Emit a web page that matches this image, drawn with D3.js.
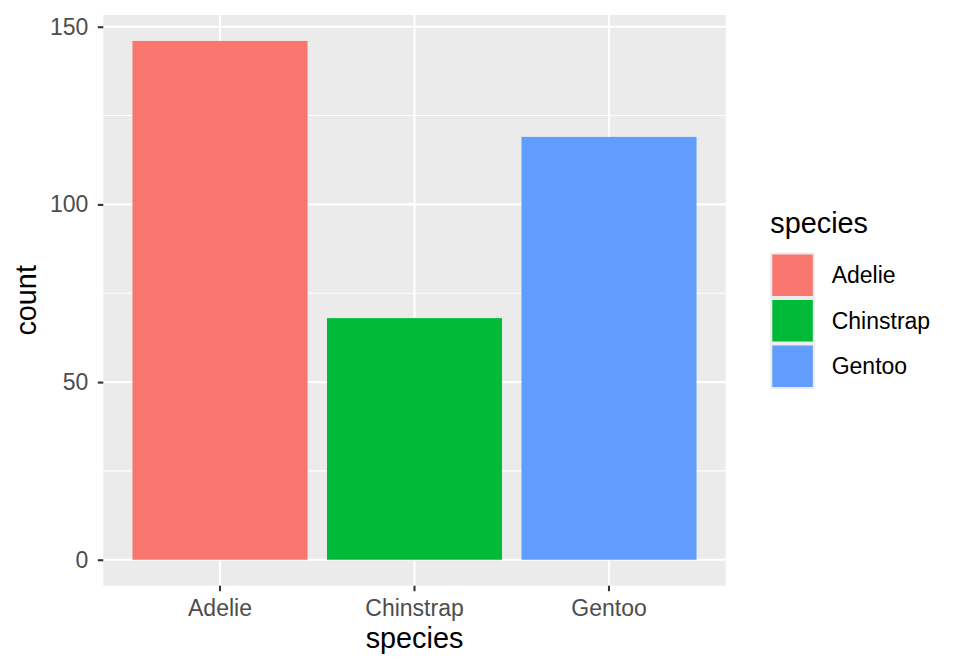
<!doctype html>
<html>
<head>
<style>
  body { margin: 0; background: #fff; }
  text { font-family: "Liberation Sans", Arial, Helvetica, sans-serif; }
</style>
<script src="https://d3js.org/d3.v7.min.js"></script>
</head>
<body>
<svg width="960" height="672"></svg>
<script>
var species = ["Adelie", "Chinstrap", "Gentoo"];
var counts = [146, 68, 119];
var colors = ["#F8766D", "#00BA38", "#619CFF"];
var yTicks = [0, 50, 100, 150];
var yMinor = [25, 75, 125];

var svg = d3.select("svg");
var panel = { left: 103.3, right: 725.7, top: 15, bottom: 585.7 };

// ggplot style expansion: 5% on continuous, 0.6 units on discrete
var yMax = d3.max(counts);
var yScale = d3.scaleLinear()
    .domain([-0.05 * yMax, yMax * 1.05])
    .range([panel.bottom, panel.top]);

var xScale = d3.scaleBand()
    .domain(species)
    .range([panel.left, panel.right])
    .paddingInner(0.1)
    .paddingOuter(0.15);

// panel background
svg.append("rect")
   .attr("x", panel.left)
   .attr("y", panel.top)
   .attr("width", panel.right - panel.left)
   .attr("height", panel.bottom - panel.top)
   .attr("fill", "#EBEBEB");

// minor grid
svg.selectAll(".minor")
   .data(yMinor)
   .enter().append("line")
   .attr("x1", panel.left).attr("x2", panel.right)
   .attr("y1", function(d) { return yScale(d); })
   .attr("y2", function(d) { return yScale(d); })
   .attr("stroke", "#fff").attr("stroke-width", 1.1);

// major grid
svg.selectAll(".majorY")
   .data(yTicks)
   .enter().append("line")
   .attr("x1", panel.left).attr("x2", panel.right)
   .attr("y1", function(d) { return yScale(d); })
   .attr("y2", function(d) { return yScale(d); })
   .attr("stroke", "#fff").attr("stroke-width", 2.1);

svg.selectAll(".majorX")
   .data(species)
   .enter().append("line")
   .attr("x1", function(d) { return xScale(d) + xScale.bandwidth() / 2; })
   .attr("x2", function(d) { return xScale(d) + xScale.bandwidth() / 2; })
   .attr("y1", panel.top).attr("y2", panel.bottom)
   .attr("stroke", "#fff").attr("stroke-width", 2.1);

// bars
svg.selectAll(".bar")
   .data(species)
   .enter().append("rect")
   .attr("x", function(d) { return xScale(d); })
   .attr("width", xScale.bandwidth())
   .attr("y", function(d, i) { return yScale(counts[i]); })
   .attr("height", function(d, i) { return yScale(0) - yScale(counts[i]); })
   .attr("fill", function(d, i) { return colors[i]; });

// axes
var yAxis = svg.append("g")
   .attr("transform", "translate(" + panel.left + ",0)")
   .call(d3.axisLeft(yScale).tickValues(yTicks).tickSize(5.5).tickPadding(9.5));
var xAxis = svg.append("g")
   .attr("transform", "translate(0," + panel.bottom + ")")
   .call(d3.axisBottom(xScale).tickSize(5.5).tickPadding(8.8));

[yAxis, xAxis].forEach(function(ax) {
  ax.select(".domain").remove();
  ax.selectAll(".tick line").attr("stroke", "#333333").attr("stroke-width", 2.1);
  ax.selectAll(".tick text")
    .attr("fill", "#4D4D4D")
    .style("font-size", "23px")
    .style("font-family", "'Liberation Sans', Arial, sans-serif");
});

// axis titles
svg.append("text")
   .attr("x", (panel.left + panel.right) / 2)
   .attr("y", 648)
   .attr("text-anchor", "middle")
   .attr("font-size", "28.8px")
   .text("species");

svg.append("text")
   .attr("transform", "translate(36," + (panel.top + panel.bottom) / 2 + ") rotate(-90)")
   .attr("text-anchor", "middle")
   .attr("font-size", "28.8px")
   .text("count");

// legend
var legend = svg.append("g").attr("transform", "translate(770.3,0)");
legend.append("text")
   .attr("x", 0)
   .attr("y", 233)
   .attr("font-size", "28.8px")
   .text("species");

var keyH = 45.5, keyW = 44.5, keyTop = 252.5;
var keys = legend.selectAll(".key")
   .data(species)
   .enter().append("g")
   .attr("transform", function(d, i) { return "translate(0," + (keyTop + i * keyH) + ")"; });

keys.append("rect")
   .attr("width", keyW).attr("height", keyH)
   .attr("fill", "#EBEBEB");
keys.append("rect")
   .attr("x", 2).attr("y", 2)
   .attr("width", keyW - 4).attr("height", keyH - 4)
   .attr("fill", function(d, i) { return colors[i]; });
keys.append("text")
   .attr("x", 61.4)
   .attr("y", keyH / 2)
   .attr("dy", "0.35em")
   .attr("font-size", "23px")
   .text(function(d) { return d; });
</script>
</body>
</html>
